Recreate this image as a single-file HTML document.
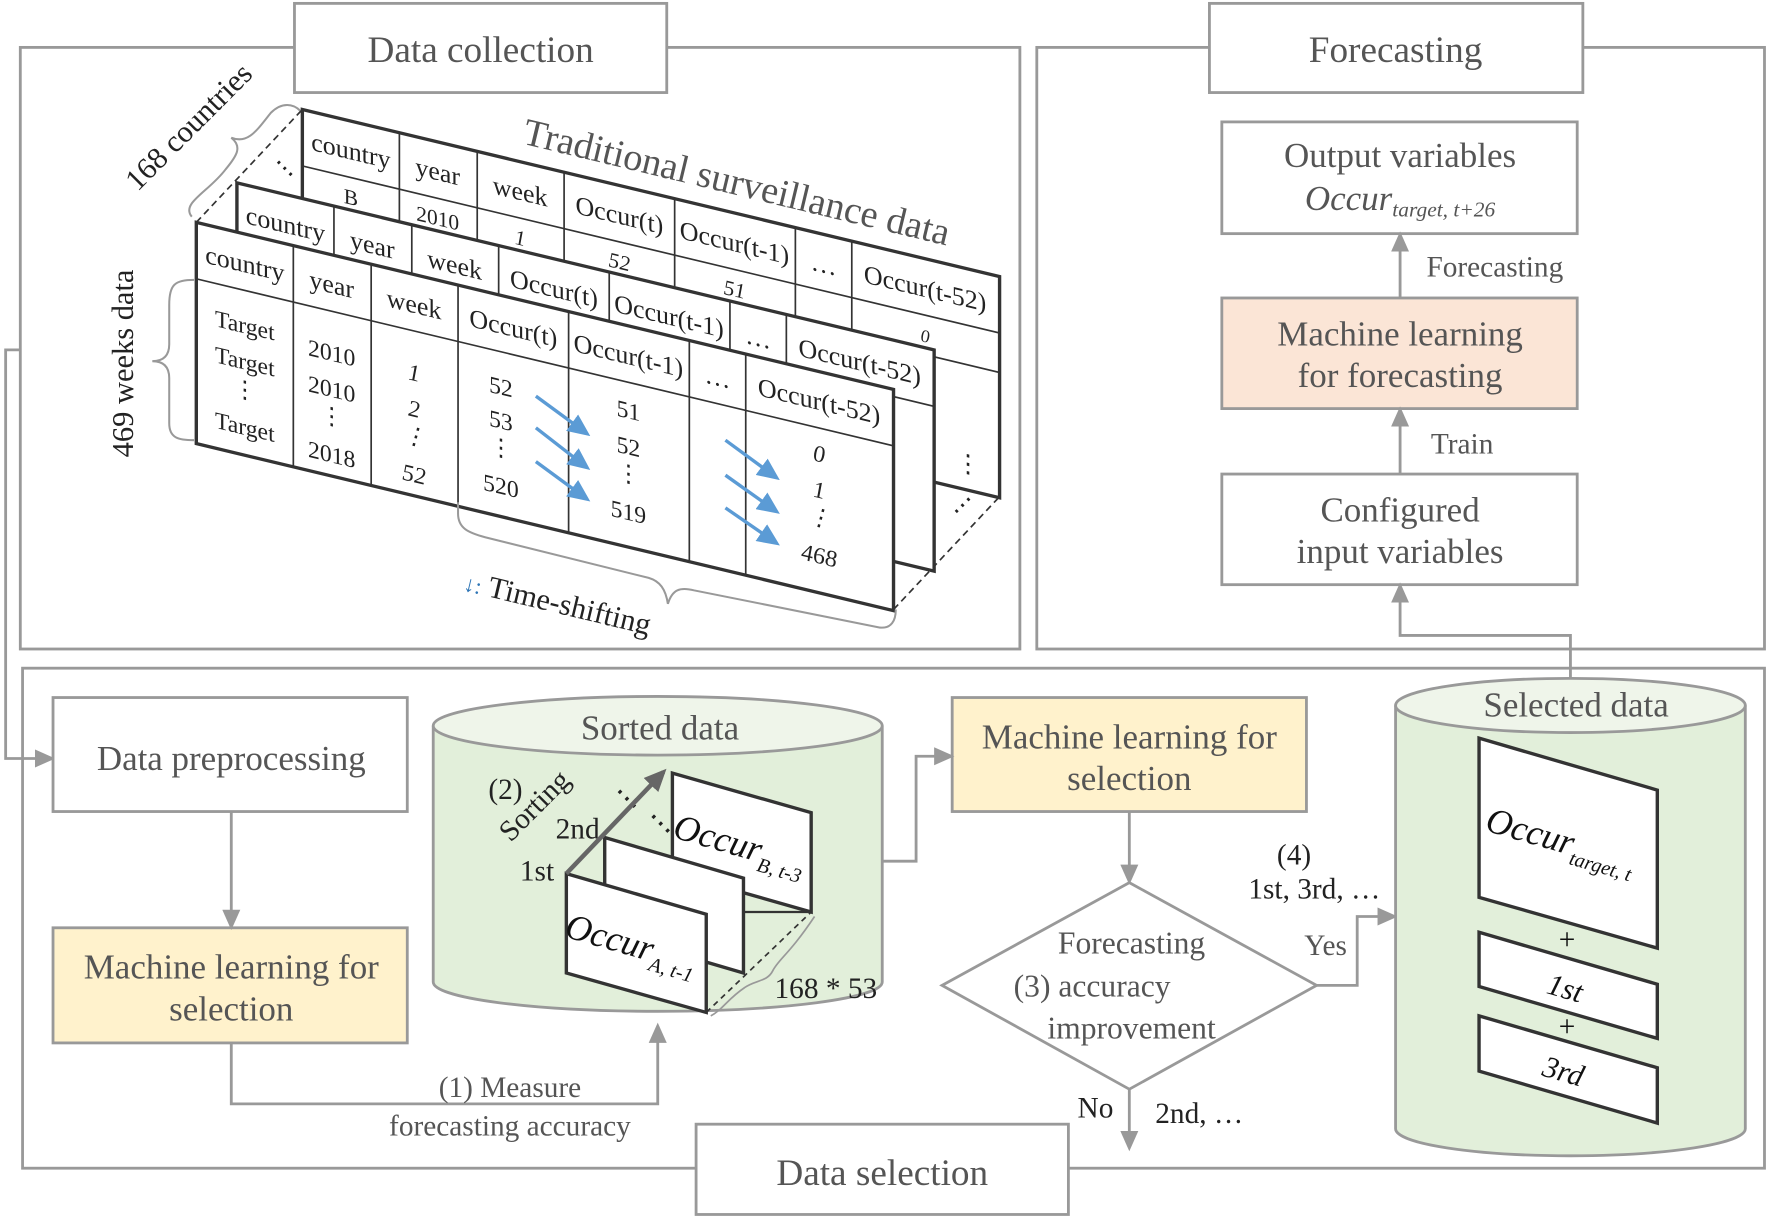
<!DOCTYPE html>
<html><head><meta charset="utf-8"><style>html,body{margin:0;padding:0;background:#fff}svg{display:block}</style></head><body>
<svg width="1769" height="1219" viewBox="0 0 1568 1080" preserveAspectRatio="none" xmlns="http://www.w3.org/2000/svg" font-family="Liberation Serif, serif">
<defs>
<marker id="ag" markerWidth="18" markerHeight="16" refX="14" refY="8" orient="auto" markerUnits="userSpaceOnUse"><path d="M0,0 L18,8 L0,16 z" fill="#999"/></marker>
<marker id="ad" markerWidth="20" markerHeight="18" refX="16" refY="9" orient="auto" markerUnits="userSpaceOnUse"><path d="M0,0 L20,9 L0,18 z" fill="#666"/></marker>
<marker id="ab" markerWidth="20" markerHeight="18" refX="16" refY="9" orient="auto" markerUnits="userSpaceOnUse"><path d="M0,0 L20,9 L0,18 z" fill="#5b9bd5"/></marker>
</defs>
<g fill="none" stroke="#999" stroke-width="2.5">
<rect x="18" y="42" width="886" height="533"/>
<rect x="919" y="42" width="645" height="533"/>
<rect x="20" y="592" width="1544" height="443"/>
<path d="M18,310 H5 V672 H45" marker-end="url(#ag)"/>
</g>
<g fill="#fff" stroke="#999" stroke-width="2.5">
<rect x="261" y="3" width="330" height="79"/>
<rect x="1072" y="3" width="331" height="79"/>
<rect x="617" y="996" width="330" height="80"/>
</g>
<g fill="#555" font-size="33" text-anchor="middle">
<text x="426" y="55">Data collection</text>
<text x="1237" y="55">Forecasting</text>
<text x="782" y="1050">Data selection</text>
</g>

<g stroke="#999" stroke-width="2.5">
<rect x="1083" y="108" width="315" height="99" fill="#fff"/>
<rect x="1083" y="264" width="315" height="98" fill="#fbe5d6"/>
<rect x="1083" y="420" width="315" height="98" fill="#fff"/>
<line x1="1241" y1="420" x2="1241" y2="364" marker-end="url(#ag)"/>
<line x1="1241" y1="264" x2="1241" y2="209" marker-end="url(#ag)"/>
<path d="M1392,600 V563 H1241 V520" fill="none" marker-end="url(#ag)"/>
</g>
<g fill="#555" font-size="31" text-anchor="middle">
<text x="1241" y="148">Output variables</text>
<text x="1241" y="186" font-style="italic">Occur<tspan font-size="19" dy="6">target, t+26</tspan></text>
<text x="1241" y="306">Machine learning</text>
<text x="1241" y="343">for forecasting</text>
<text x="1241" y="462">Configured</text>
<text x="1241" y="499">input variables</text>
<text x="1325" y="245" font-size="26">Forecasting</text>
<text x="1296" y="402" font-size="26">Train</text>
</g>

<g stroke="#333" stroke-width="3" fill="none">
<line x1="174" y1="197" x2="268" y2="97" stroke-dasharray="6,4" stroke-width="1.5"/>
<line x1="792" y1="540" x2="886" y2="440" stroke-dasharray="6,4" stroke-width="1.5"/>
</g>
<g transform="matrix(1,0.2395,0,1,268,97)" stroke="#333" font-size="23">
<rect x="0" y="0" width="618" height="196" fill="#fff" stroke-width="3"/>
<g stroke-width="1.5"><line x1="0" y1="50" x2="618" y2="50"/><line x1="0" y1="85" x2="618" y2="85"/>
<line x1="86" y1="0" x2="86" y2="85"/><line x1="155" y1="0" x2="155" y2="85"/><line x1="232" y1="0" x2="232" y2="85"/><line x1="330" y1="0" x2="330" y2="85"/><line x1="437" y1="0" x2="437" y2="85"/><line x1="487" y1="0" x2="487" y2="85"/></g>
<g stroke="none" fill="#222" text-anchor="middle"><text x="43" y="34">country</text><text x="120" y="34">year</text><text x="193" y="34">week</text><text x="281" y="34">Occur(t)</text><text x="383" y="34">Occur(t-1)</text><text x="462" y="34">…</text><text x="552" y="34">Occur(t-52)</text>
<text x="43" y="74" font-size="19">B</text><text x="120" y="74" font-size="19">2010</text><text x="193" y="74" font-size="19" font-style="italic">1</text><text x="281" y="74" font-size="19" font-style="italic">52</text><text x="383" y="74" font-size="19" font-style="italic">51</text><text x="552" y="74" font-size="16" font-style="italic">0</text>
<text x="590" y="180" font-size="22">⋮</text></g>
</g>
<text x="244" y="148" font-size="22" fill="#222" transform="rotate(45 244 142)">⋯</text>
<g transform="matrix(1,0.2395,0,1,210,162)" stroke="#333" font-size="23">
<rect x="0" y="0" width="618" height="196" fill="#fff" stroke-width="3"/>
<g stroke-width="1.5"><line x1="0" y1="50" x2="618" y2="50"/>
<line x1="86" y1="0" x2="86" y2="50"/><line x1="155" y1="0" x2="155" y2="50"/><line x1="232" y1="0" x2="232" y2="50"/><line x1="330" y1="0" x2="330" y2="50"/><line x1="437" y1="0" x2="437" y2="50"/><line x1="487" y1="0" x2="487" y2="50"/></g>
<g stroke="none" fill="#222" text-anchor="middle"><text x="43" y="34">country</text><text x="120" y="34">year</text><text x="193" y="34">week</text><text x="281" y="34">Occur(t)</text><text x="383" y="34">Occur(t-1)</text><text x="462" y="34">…</text><text x="552" y="34">Occur(t-52)</text></g>
</g>
<text x="846" y="462" font-size="22" fill="#222" transform="rotate(-45 846 456)">⋯</text>
<g transform="matrix(1,0.2395,0,1,174,197)" stroke="#333" font-size="23">
<rect x="0" y="0" width="618" height="196" fill="#fff" stroke-width="3"/>
<g stroke-width="1.5"><line x1="0" y1="50" x2="618" y2="50"/>
<line x1="86" y1="0" x2="86" y2="196"/><line x1="155" y1="0" x2="155" y2="196"/><line x1="232" y1="0" x2="232" y2="196"/><line x1="330" y1="0" x2="330" y2="196"/><line x1="437" y1="0" x2="437" y2="196"/><line x1="487" y1="0" x2="487" y2="196"/></g>
<g stroke="none" fill="#222" text-anchor="middle"><text x="43" y="34">country</text><text x="120" y="34">year</text><text x="193" y="34">week</text><text x="281" y="34">Occur(t)</text><text x="383" y="34">Occur(t-1)</text><text x="462" y="34">…</text><text x="552" y="34">Occur(t-52)</text>
<g font-size="21"><text x="43" y="88">Target</text><text x="43" y="120">Target</text><text x="43" y="145">⋮</text><text x="43" y="178">Target</text>
<text x="120" y="94">2010</text><text x="120" y="126">2010</text><text x="120" y="150">⋮</text><text x="120" y="184">2018</text>
<g font-style="italic"><text x="193" y="94">1</text><text x="193" y="126">2</text><text x="193" y="150">⋮</text><text x="193" y="184">52</text></g>
<text x="270" y="88">52</text><text x="270" y="118">53</text><text x="270" y="142">⋮</text><text x="270" y="176">520</text>
<text x="383" y="82">51</text><text x="383" y="114">52</text><text x="383" y="138">⋮</text><text x="383" y="172">519</text>
<g font-style="italic"><text x="552" y="80">0</text><text x="552" y="112">1</text><text x="552" y="136">⋮</text><text x="552" y="170">468</text></g></g></g>
</g>
<g stroke="#5b9bd5" stroke-width="3">
<line x1="475" y1="351" x2="520" y2="384" marker-end="url(#ab)"/>
<line x1="475" y1="379" x2="520" y2="414" marker-end="url(#ab)"/>
<line x1="475" y1="409" x2="520" y2="442" marker-end="url(#ab)"/>
<line x1="643" y1="390" x2="688" y2="423" marker-end="url(#ab)"/>
<line x1="643" y1="421" x2="688" y2="453" marker-end="url(#ab)"/>
<line x1="643" y1="450" x2="688" y2="481" marker-end="url(#ab)"/>
</g>
<g fill="none" stroke="#999" stroke-width="1.8">
<path d="M170,192 C160,180 185,170 200,150 C210,138 215,130 205,122 C220,128 228,115 240,100 C250,90 260,92 266,98"/>
<path d="M172,248 C155,248 150,252 150,270 V305 C150,315 145,320 135,320 C145,320 150,325 150,335 V375 C150,388 158,390 172,390"/>
<path d="M406,445 V455 C406,468 415,472 430,476 L575,512 C585,515 590,522 592,535 C596,522 603,520 615,523 L780,556 C790,557 794,550 794,540"/>
</g>
<g fill="#222" font-size="27">
<text x="170" y="120" transform="rotate(-45 170 115)" text-anchor="middle">168 countries</text>
<text x="118" y="322" transform="rotate(-90 118 322)" text-anchor="middle">469 weeks data</text>
</g>
<text x="462" y="127" font-size="34" fill="#555" transform="rotate(13.5 462 127)">Traditional surveillance data</text>
<text x="410" y="523" font-size="27" fill="#222" transform="rotate(13.5 410 523)"><tspan fill="#2e75b6" font-size="20">↓:</tspan> Time-shifting</text>

<g stroke="#999" stroke-width="2.5">
<rect x="47" y="618" width="314" height="101" fill="#fff"/>
<rect x="47" y="822" width="314" height="102" fill="#fff2cc"/>
<rect x="844" y="618" width="314" height="101" fill="#fff2cc"/>
<line x1="205" y1="719" x2="205" y2="820" marker-end="url(#ag)"/>
<path d="M205,924 V978 H583 V910" fill="none" marker-end="url(#ag)"/>
<path d="M782,763 H812 V670 H842" fill="none" marker-end="url(#ag)"/>
<line x1="1001" y1="719" x2="1001" y2="780" marker-end="url(#ag)"/>
<polygon points="1001,782 1167,873 1001,965 835,873" fill="#fff"/>
<line x1="1001" y1="965" x2="1001" y2="1016" marker-end="url(#ag)"/>
<path d="M1167,873 H1203 V812 H1235" fill="none" marker-end="url(#ag)"/>
<path d="M384,643 V870 A199,26 0 0 0 782,870 V643" fill="#e2efda"/>
<ellipse cx="583" cy="643" rx="199" ry="26" fill="#eff5ea"/>
<path d="M1237,625 V1000 A155,24 0 0 0 1547,1000 V625" fill="#e2efda"/>
<ellipse cx="1392" cy="625" rx="155" ry="24" fill="#eff5ea"/>
</g>
<g fill="#555" font-size="31" text-anchor="middle">
<text x="205" y="682">Data preprocessing</text>
<text x="205" y="867">Machine learning for</text>
<text x="205" y="904">selection</text>
<text x="1001" y="663">Machine learning for</text>
<text x="1001" y="700">selection</text>
<text x="585" y="655">Sorted data</text>
<text x="1397" y="635">Selected data</text>
<g font-size="28"><text x="1003" y="845">Forecasting</text><text x="968" y="883">(3) accuracy</text><text x="1003" y="920">improvement</text></g>
<g font-size="26"><text x="452" y="972">(1) Measure</text><text x="452" y="1006">forecasting accuracy</text></g>
</g>
<g fill="#222" font-size="26">
<text x="971" y="990" text-anchor="middle">No</text>
<text x="1063" y="995" text-anchor="middle">2nd, …</text>
<text x="1175" y="846" text-anchor="middle" fill="#555">Yes</text>
<text x="1147" y="766" text-anchor="middle">(4)</text>
<text x="1165" y="796" text-anchor="middle">1st, 3rd, …</text>
<text x="448" y="708" text-anchor="middle">(2)</text>
<text x="474" y="722" text-anchor="middle" transform="rotate(-45 474 714)">Sorting</text>
<text x="512" y="743" text-anchor="middle">2nd</text>
<text x="476" y="780" text-anchor="middle">1st</text>
<text x="545" y="706" transform="rotate(45 545 700)">⋯</text>
<text x="575" y="728" transform="rotate(45 575 722)">⋯</text>
<text x="732" y="884" text-anchor="middle">168 * 53</text>
</g>
<g stroke="#333" stroke-width="3" fill="#fff">
<line x1="719" y1="808" x2="659" y2="808" stroke-width="2"/>
<polygon points="596,685 719,720 719,808 596,773"/>
<polygon points="536,742 659,778 659,862 536,826"/>
<polygon points="502,774 626,810 626,897 502,862"/>
</g>
<line x1="502" y1="774" x2="588" y2="684" stroke="#666" stroke-width="4" marker-end="url(#ad)"/>
<line x1="626" y1="897" x2="719" y2="808" stroke="#333" stroke-width="1.5" stroke-dasharray="5,4"/>
<path d="M630,900 C640,895 645,885 660,875 C670,868 680,870 685,860 C690,850 700,845 722,812" fill="none" stroke="#999" stroke-width="1.5"/>
<g fill="#111" font-style="italic">
<text x="598" y="742" font-size="32" transform="rotate(16 598 732)">Occur<tspan font-size="18" dy="8">B, t-3</tspan></text>
<text x="502" y="830" font-size="32" transform="rotate(16 502 820)">Occur<tspan font-size="18" dy="8">A, t-1</tspan></text>
</g>
<g stroke="#333" stroke-width="3" fill="#fff">
<polygon points="1311,654 1469,700 1469,840 1311,795"/>
<polygon points="1311,826 1469,872 1469,920 1311,874"/>
<polygon points="1311,900 1469,946 1469,995 1311,949"/>
</g>
<g fill="#111" font-style="italic">
<text x="1318" y="736" font-size="32" transform="rotate(16 1318 726)">Occur<tspan font-size="18" dy="8">target, t</tspan></text>
<text x="1372" y="880" font-size="27" transform="rotate(16 1372 872)">1st</text>
<text x="1368" y="953" font-size="27" transform="rotate(16 1368 945)">3rd</text>
</g>
<g fill="#111" font-size="26" text-anchor="middle"><text x="1389" y="841">+</text><text x="1389" y="918">+</text></g>
</svg>
</body></html>
